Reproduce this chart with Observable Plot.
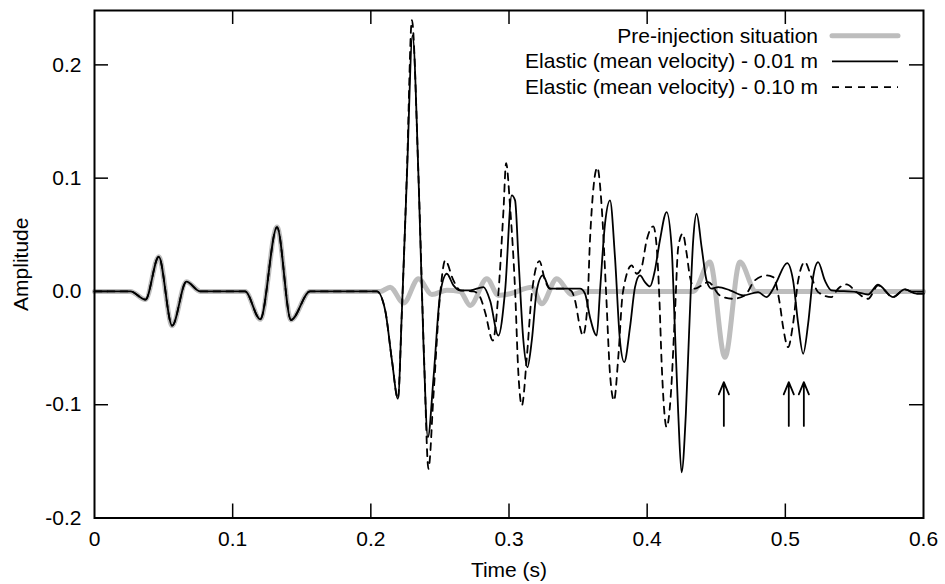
<!DOCTYPE html>
<html><head><meta charset="utf-8">
<script src="https://cdn.jsdelivr.net/npm/d3@7"></script>
<script src="https://cdn.jsdelivr.net/npm/@observablehq/plot@0.6"></script>
<style>body{margin:0;background:#fff;} svg{display:block}</style>
</head><body><div id="chart"></div>
<script>
// Shared early part (all three traces coincide before 0.2 s): [time, amplitude]
const earlyPoints = [[0,0],[0.026,0],[0.0369,-0.0072],[0.0465,0.0306],[0.0562,-0.0302],[0.0665,0.0086],[0.0766,0],
  [0.109,0],[0.12,-0.0246],[0.1321,0.0568],[0.1422,-0.0252],[0.156,0],[0.2,0]];

const prePoints = [[0.2068,0],[0.214,0.0038],[0.2237,-0.0103],[0.2345,0.0112],[0.2442,-0.0027],[0.255,0.001],[0.2646,0],
  [0.2719,-0.0124],[0.284,0.0112],[0.2923,-0.0035],[0.3008,-0.002],[0.3165,0.0038],[0.3237,-0.0109],[0.3346,0.0112],
  [0.3454,-0.0027],[0.3538,0],[0.4333,0],[0.4454,0.0259],[0.4563,-0.058],[0.4671,0.0259],[0.4787,0],[0.6,0]];

const solidPoints = [[0.2044,0],[0.2104,-0.0168],[0.2153,-0.061],[0.2196,-0.0948],[0.2225,-0.0168],[0.2261,0.101],
  [0.2302,0.2261],[0.2345,0.101],[0.2381,-0.0462],[0.2413,-0.1287],[0.2454,-0.0757],[0.2502,-0.002],[0.255,0.0156],
  [0.2598,0.0053],[0.2646,0.001],[0.2719,0.001],[0.2815,0.0038],[0.2863,-0.008],[0.2923,-0.0389],[0.2972,0.001],
  [0.302,0.0848],[0.3044,0.0804],[0.3068,0.0303],[0.3104,-0.0433],[0.3133,-0.0669],[0.3165,-0.0433],[0.3201,0.001],
  [0.3244,0.0141],[0.3297,0.0024],[0.3418,0.0024],[0.3514,0.0024],[0.355,-0.002],[0.3586,-0.0227],[0.3635,-0.0389],
  [0.3659,0.001],[0.3695,0.0598],[0.3731,0.0804],[0.3767,0.0303],[0.3803,-0.0433],[0.3834,-0.0624],[0.3876,-0.0315],
  [0.3912,0.0038],[0.3948,0.0141],[0.3984,0.0082],[0.402,0.0044],[0.4056,0.0186],[0.4092,0.045],[0.4141,0.0701],
  [0.4177,0.0391],[0.4201,-0.0345],[0.4225,-0.108],[0.4249,-0.1596],[0.428,-0.108],[0.4304,-0.0345],[0.4333,0.045],
  [0.4358,0.0686],[0.4394,0.0391],[0.443,0.0097],[0.4466,0.0024],[0.4514,0.0038],[0.4599,0.001],[0.4695,-0.0035],
  [0.4803,-0.0006],[0.4864,-0.005],[0.4912,0.0024],[0.4936,0.0082],[0.5013,0.025],[0.5056,0.0097],[0.5093,-0.0285],
  [0.5129,-0.055],[0.5165,-0.0285],[0.5201,0.0126],[0.5237,0.0259],[0.5286,0.0097],[0.5334,0.001],[0.5515,-0.0006],
  [0.5599,-0.0027],[0.5671,0.0059],[0.5779,-0.005],[0.5864,0.0018],[0.5949,-0.002],[0.6,-0.002]];

const dashedPoints = [[0.2044,0],[0.2104,-0.0168],[0.2153,-0.061],[0.2196,-0.0948],[0.2225,-0.0168],[0.2261,0.105],
  [0.2297,0.2394],[0.2345,0.101],[0.2386,-0.061],[0.2417,-0.1566],[0.2454,-0.0904],[0.2502,-0.002],[0.2538,0.0274],
  [0.2598,0.0097],[0.2646,0.001],[0.2743,0],[0.2791,-0.005],[0.2827,-0.0183],[0.2883,-0.0433],[0.2923,-0.002],
  [0.296,0.0716],[0.2979,0.1133],[0.3008,0.0745],[0.3044,0.001],[0.3068,-0.0727],[0.3093,-0.1007],[0.3129,-0.058],
  [0.3165,-0.002],[0.322,0.0268],[0.3261,0.0097],[0.3297,0.0024],[0.3418,0.0024],[0.3454,0],[0.3478,-0.008],
  [0.3514,-0.0315],[0.3534,-0.0389],[0.3567,-0.0139],[0.3586,0.045],[0.3639,0.1093],[0.3671,0.0745],[0.3702,0.001],
  [0.3731,-0.0727],[0.376,-0.0963],[0.3791,-0.058],[0.3823,-0.002],[0.3888,0.023],[0.3924,0.0156],[0.396,0.0215],
  [0.3996,0.045],[0.4044,0.0574],[0.4069,0.0391],[0.4088,-0.005],[0.4105,-0.0639],[0.4141,-0.1199],[0.417,-0.0934],
  [0.4201,-0.0197],[0.4225,0.0391],[0.4257,0.051],[0.4286,0.0333],[0.431,0.0126],[0.4346,0.0024],[0.4394,0.0053],
  [0.4442,0.0082],[0.4526,-0.0035],[0.4622,-0.0065],[0.4707,-0.0035],[0.4779,0.0097],[0.4864,0.0141],[0.4912,0.0126],
  [0.496,-0.0109],[0.4984,-0.0315],[0.502,-0.0492],[0.5056,-0.0285],[0.5093,0.0097],[0.5141,0.0259],[0.5189,0.0126],
  [0.5237,-0.0006],[0.5334,-0.005],[0.5382,0.0024],[0.5443,0.0062],[0.5515,-0.0006],[0.5599,-0.0065],[0.5671,0.0053],
  [0.5779,-0.005],[0.5864,0.0018],[0.5949,-0.002],[0.6,-0.002]];

const arrowTimes = [0.4555, 0.5025, 0.5134];
const arrowFrom = -0.1187, arrowTo = -0.0801;

const xTicks = [0, 0.1, 0.2, 0.3, 0.4, 0.5, 0.6];
const yTicks = [-0.2, -0.1, 0, 0.1, 0.2];
const xInner = [0.1, 0.2, 0.3, 0.4, 0.5];
const yInner = [-0.1, 0, 0.1, 0.2];

const legendLabels = ["Pre-injection situation", "Elastic (mean velocity) - 0.01 m", "Elastic (mean velocity) - 0.10 m"];

const GRAY = "#bdbdbd";
const styles = [
  {stroke: GRAY, width: 5, dash: null},
  {stroke: "#000", width: 1.8, dash: null},
  {stroke: "#000", width: 1.8, dash: "7,6"}
];

const W = 945, H = 584;
const mL = 94, mR = 22, mT = 10, mB = 66.5;
const innerW = W - mL - mR, innerH = H - mT - mB;
const FONT = "'Liberation Sans', Arial, Helvetica, sans-serif";

const pre = earlyPoints.concat(prePoints);
const solid = earlyPoints.concat(solidPoints);
const dashed = earlyPoints.concat(dashedPoints);

function legendMark(index, scales, values, dims) {
  const g = d3.create("svg:g").attr("font-family", FONT).attr("font-size", 21);
  const right = dims.width - dims.marginRight;
  const top = dims.marginTop;
  legendLabels.forEach((label, i) => {
    const base = top + 32.7 + i * 25.7;
    g.append("text").attr("x", right - 105).attr("y", base).attr("text-anchor", "end").attr("fill", "#000").text(label);
    const s = styles[i];
    const ln = g.append("line").attr("x1", right - 91).attr("x2", right - 25)
      .attr("y1", base - 7).attr("y2", base - 7)
      .attr("stroke", s.stroke).attr("stroke-width", s.width).attr("stroke-linecap", i === 0 ? "round" : "butt");
    if (s.dash) ln.attr("stroke-dasharray", s.dash);
  });
  return g.node();
}

const chart = Plot.plot({
  width: W, height: H,
  marginLeft: mL, marginRight: mR, marginTop: mT, marginBottom: mB,
  style: {fontFamily: FONT, fontSize: "21px", background: "#fff", color: "#000"},
  x: {domain: [0, 0.6]},
  y: {domain: [-0.2, 0.248]},
  marks: [
    Plot.line(pre, {x: d => d[0], y: d => d[1], stroke: GRAY, strokeWidth: 5, curve: "monotone-x"}),
    Plot.line(dashed, {x: d => d[0], y: d => d[1], stroke: "#000", strokeWidth: 1.8, strokeDasharray: "7,6", curve: "monotone-x"}),
    Plot.line(solid, {x: d => d[0], y: d => d[1], stroke: "#000", strokeWidth: 1.8, curve: "monotone-x"}),
    Plot.arrow(arrowTimes, {x1: d => d, x2: d => d, y1: arrowFrom, y2: arrowTo, stroke: "#000", strokeWidth: 1.8, headLength: 11, headAngle: 45}),
    Plot.tickX(xInner, {x: d => d, insetTop: innerH - 14, stroke: "#000", strokeWidth: 1.5}),
    Plot.tickX(xInner, {x: d => d, insetBottom: innerH - 14, stroke: "#000", strokeWidth: 1.5}),
    Plot.tickY(yInner, {y: d => d, insetRight: innerW - 14, stroke: "#000", strokeWidth: 1.5}),
    Plot.tickY(yInner, {y: d => d, insetLeft: innerW - 14, stroke: "#000", strokeWidth: 1.5}),
    Plot.frame({stroke: "#000", strokeWidth: 2}),
    Plot.axisX(xTicks, {tickSize: 0, tickPadding: 13, tickFormat: d => d === 0 ? "0" : d.toFixed(1),
      label: "Time (s)", labelAnchor: "center", labelArrow: "none", labelOffset: 58.5}),
    Plot.axisY(yTicks, {tickSize: 0, tickPadding: 13, tickFormat: d => d.toFixed(1),
      label: "Amplitude", labelAnchor: "center", labelArrow: "none", labelOffset: 81}),
    legendMark
  ]
});
document.getElementById("chart").appendChild(chart);
</script>
</body></html>
